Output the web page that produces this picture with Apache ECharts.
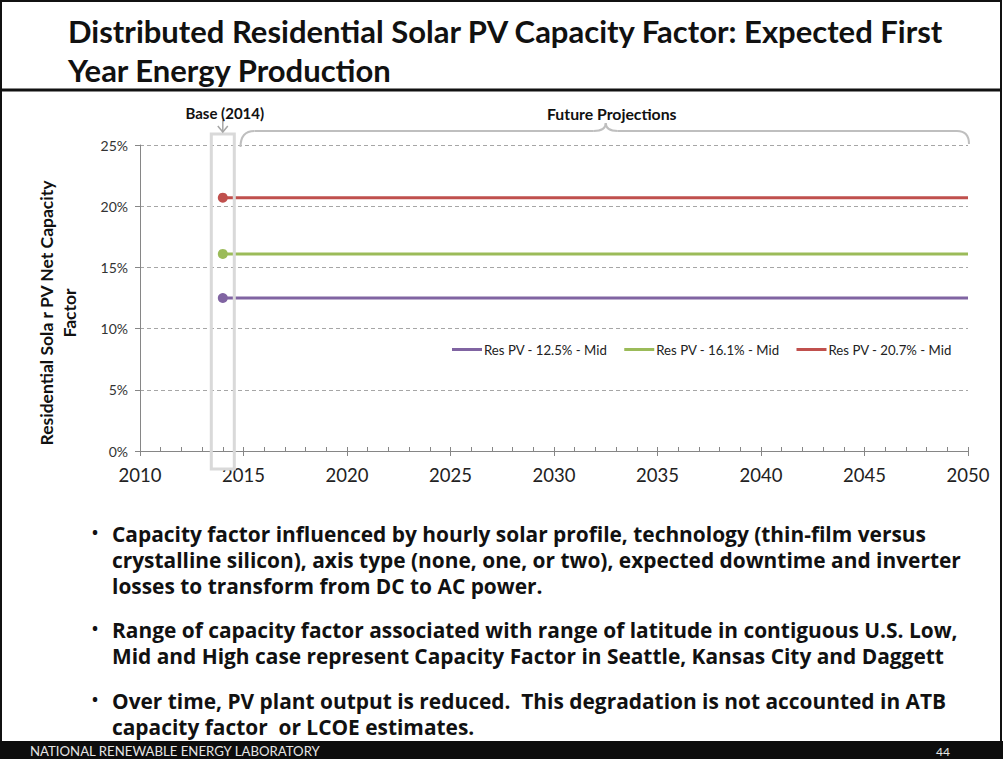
<!DOCTYPE html>
<html><head><meta charset="utf-8">
<script src="https://cdn.jsdelivr.net/npm/echarts@6/dist/echarts.min.js"></script>
<style>html,body{margin:0;padding:0;background:#fff}#c{width:1003px;height:759px}</style>
</head><body><div id="c"></div>
<script>
// ---- data ----
const years = [2014, 2015, 2020, 2025, 2030, 2035, 2040, 2045, 2050];
const resLow = [12.5, 12.5, 12.5, 12.5, 12.5, 12.5, 12.5, 12.5, 12.5];
const resMid = [16.1, 16.1, 16.1, 16.1, 16.1, 16.1, 16.1, 16.1, 16.1];
const resHigh = [20.7, 20.7, 20.7, 20.7, 20.7, 20.7, 20.7, 20.7, 20.7];
const seriesNames = ['Res PV - 12.5% - Mid', 'Res PV - 16.1% - Mid', 'Res PV - 20.7% - Mid'];
const seriesColors = ['#8064a2', '#9bbb59', '#c0504d'];
const baseYear = 2014;
const xMin = 2010, xMax = 2050, xStep = 5;
const yMin = 0, yMax = 25, yStep = 5;
const titleLines = ['Distributed Residential Solar PV Capacity Factor: Expected First', 'Year Energy Production'];
const yTitle = 'Residential Sola r PV Net Capacity\nFactor';
const baseLabel = 'Base (2014)';
const futureLabel = 'Future Projections';
const bullets = [
  ['Capacity factor influenced by hourly solar profile, technology (thin-film versus',
   'crystalline silicon), axis type (none, one, or two), expected downtime and inverter',
   'losses to transform from DC to AC power.'],
  ['Range of capacity factor associated with range of latitude in contiguous U.S. Low,',
   'Mid and High case represent Capacity Factor in Seattle, Kansas City and Daggett'],
  ['Over time, PV plant output is reduced.  This degradation is not accounted in ATB',
   'capacity factor  or LCOE estimates.']
];
const footerLeft = 'NATIONAL RENEWABLE ENERGY LABORATORY';
const footerRight = '44';

const FONT = 'Lato, "Open Sans", "Noto Sans", sans-serif';
const BFONT = '"Open Sans", Lato, "Noto Sans", sans-serif';

function buildData(vals) {
  return years.map((y, i) => i === 0
    ? { value: [y, vals[i]], symbol: 'circle', symbolSize: 10 }
    : { value: [y, vals[i]], symbol: 'none' });
}

const chart = echarts.init(document.getElementById('c'), null, { renderer: 'svg' });
const valueSets = [resLow, resMid, resHigh];

chart.setOption({
  animation: false,
  backgroundColor: '#fff',
  grid: { left: 140, right: 35, top: 145, bottom: 308, containLabel: false },
  legend: {
    left: 452, top: 343, padding: 0,
    itemWidth: 30, itemHeight: 3, itemGap: 17,
    icon: 'rect',
    textStyle: { fontFamily: FONT, fontSize: 13.2, color: '#222', padding: [0, 0, 0, -3] },
    data: seriesNames
  },
  xAxis: [{
    type: 'value', min: xMin, max: xMax, interval: xStep,
    axisLine: { show: true, lineStyle: { color: '#868686', width: 1 } },
    axisTick: { show: true, length: 5, lineStyle: { color: '#868686' } },
    axisLabel: { fontFamily: FONT, fontSize: 18.5, color: '#222', margin: 14, formatter: v => String(v) },
    splitLine: { show: false }
  }, {
    type: 'value', min: xMin, max: xMax, interval: 1, position: 'bottom',
    axisLine: { show: false },
    axisTick: { show: true, inside: true, length: 4, lineStyle: { color: '#868686' } },
    axisLabel: { show: false },
    splitLine: { show: false }
  }],
  yAxis: {
    type: 'value', min: yMin, max: yMax, interval: yStep,
    axisLine: { show: true, lineStyle: { color: '#868686', width: 1 } },
    axisTick: { show: true, length: 5, lineStyle: { color: '#868686' } },
    axisLabel: { fontFamily: FONT, fontSize: 14, color: '#333', margin: 12, formatter: '{value}%' },
    splitLine: { show: true, lineStyle: { color: '#a6a6a6', type: [4, 3], width: 1 } }
  },
  series: seriesNames.map((n, i) => ({
    name: n, type: 'line', xAxisIndex: 0,
    data: buildData(valueSets[i]),
    showSymbol: true,
    lineStyle: { width: 3, color: seriesColors[i] },
    itemStyle: { color: seriesColors[i] },
    emphasis: { disabled: true }
  }))
});

// ---- decorations computed from the axes ----
const pBase = chart.convertToPixel({ gridIndex: 0 }, [baseYear, yMax]);
const pBase0 = chart.convertToPixel({ gridIndex: 0 }, [baseYear, yMin]);
const pStart = chart.convertToPixel({ gridIndex: 0 }, [baseYear + 1, yMax]);
const pEnd = chart.convertToPixel({ gridIndex: 0 }, [xMax, yMax]);
const bx = pBase[0], topY = pBase[1], botY = pBase0[1];
const mid = (pStart[0] + pEnd[0]) / 2;
const by = topY - 14;

const g = [];
const braceStyle = { stroke: '#bfbfbf', lineWidth: 2, fill: 'none' };
// slide frame
g.push({ type: 'rect', shape: { x: 1, y: 1, width: 1000, height: 756 }, style: { fill: 'none', stroke: '#111', lineWidth: 2 }, z: 1 });
g.push({ type: 'line', shape: { x1: 1, y1: 90, x2: 1002, y2: 90 }, style: { stroke: '#111', lineWidth: 3 }, z: 1 });
g.push({ type: 'rect', shape: { x: 0, y: 741, width: 1003, height: 18 }, style: { fill: '#0d0d0d' }, z: 2 });
g.push({ type: 'text', x: 30, y: 751, style: { text: footerLeft, fill: '#e6e6e6', font: '13.2px ' + FONT, verticalAlign: 'middle' }, z: 3 });
g.push({ type: 'text', x: 943, y: 751, style: { text: footerRight, fill: '#e6e6e6', font: '12px ' + FONT, align: 'center', verticalAlign: 'middle' }, z: 3 });
// title
titleLines.forEach((t, i) => g.push({ type: 'text', x: 68, y: 31 + i * 39, style: { text: t, fill: '#111', font: 'bold 31px ' + FONT, verticalAlign: 'middle' }, z: 3 }));
// y title
g.push({ type: 'text', x: 58, y: 313, rotation: Math.PI / 2, style: { text: yTitle, fill: '#111', font: 'bold 17.5px ' + FONT, align: 'center', verticalAlign: 'middle', lineHeight: 23 }, z: 3 });
// base box + arrow + label
g.push({ type: 'rect', shape: { x: bx - 11.5, y: topY - 11, width: 23, height: botY - topY + 29 }, style: { fill: 'none', stroke: '#d9d9d9', lineWidth: 3 }, z: 5 });
g.push({ type: 'polyline', shape: { points: [[bx, topY - 25], [bx, topY - 13]] }, style: { stroke: '#a6a6a6', lineWidth: 1.5 }, z: 5 });
g.push({ type: 'polyline', shape: { points: [[bx - 5, topY - 19], [bx, topY - 13], [bx + 5, topY - 19]] }, style: { stroke: '#a6a6a6', lineWidth: 1.5, fill: 'none' }, z: 5 });
g.push({ type: 'text', x: bx + 2, y: topY - 32, style: { text: baseLabel, fill: '#111', font: 'bold 15px ' + FONT, align: 'center', verticalAlign: 'middle' }, z: 5 });
// future brace
const x0 = pStart[0] - 3, x1 = pEnd[0] + 1;
g.push({ type: 'bezierCurve', shape: { x1: x0, y1: topY + 2, cpx1: x0, cpy1: by, x2: x0 + 14, y2: by }, style: braceStyle, z: 5 });
g.push({ type: 'line', shape: { x1: x0 + 14, y1: by, x2: mid - 12, y2: by }, style: braceStyle, z: 5 });
g.push({ type: 'bezierCurve', shape: { x1: mid - 12, y1: by, cpx1: mid, cpy1: by, x2: mid, y2: by - 8 }, style: braceStyle, z: 5 });
g.push({ type: 'bezierCurve', shape: { x1: mid, y1: by - 8, cpx1: mid, cpy1: by, x2: mid + 12, y2: by }, style: braceStyle, z: 5 });
g.push({ type: 'line', shape: { x1: mid + 12, y1: by, x2: x1 - 12, y2: by }, style: braceStyle, z: 5 });
g.push({ type: 'bezierCurve', shape: { x1: x1 - 12, y1: by, cpx1: x1, cpy1: by, x2: x1, y2: topY - 1 }, style: braceStyle, z: 5 });
g.push({ type: 'text', x: mid + 6, y: topY - 32, style: { text: futureLabel, fill: '#111', font: 'bold 15.8px ' + FONT, align: 'center', verticalAlign: 'middle' }, z: 5 });
// bullets
const bulletY = [[534, 560, 586], [630, 656], [701, 727]];
bullets.forEach((lines, bi) => {
  g.push({ type: 'text', x: 95, y: bulletY[bi][0] - 2, style: { text: '•', fill: '#111', font: 'bold 16px ' + BFONT, align: 'center', verticalAlign: 'middle' }, z: 3 });
  lines.forEach((t, li) => g.push({ type: 'text', x: 112, y: bulletY[bi][li], style: { text: t, fill: '#111', font: 'bold 20.9px ' + BFONT, verticalAlign: 'middle', lineHeight: 24 }, z: 3 }));
});
chart.setOption({ graphic: { elements: g } });
</script>
</body></html>
